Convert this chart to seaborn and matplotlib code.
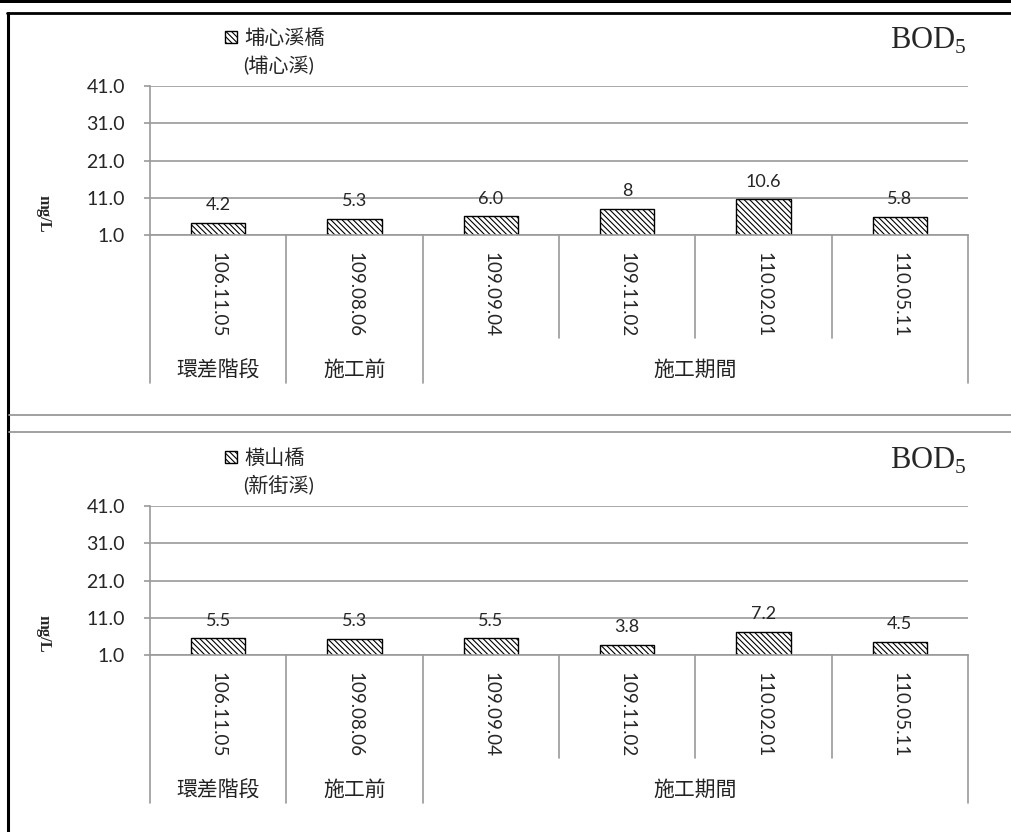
import matplotlib
matplotlib.use("Agg")
import matplotlib.pyplot as plt
import pandas as pd
import seaborn as sns
from matplotlib.patches import Patch, Rectangle
from matplotlib.lines import Line2D

# data
dates = ["106.11.05", "109.08.06", "109.09.04", "109.11.02", "110.02.01", "110.05.11"]
phases = ["環差階段", "施工前", "施工期間"]
phase_span = [(0, 0), (1, 1), (2, 5)]
yticks = [1.0, 11.0, 21.0, 31.0, 41.0]

site_top = "埔心溪橋"
river_top = "(埔心溪)"
bod_top = [4.2, 5.3, 6.0, 8.0, 10.6, 5.8]
lab_top = ["4.2", "5.3", "6.0", "8", "10.6", "5.8"]

site_bot = "橫山橋"
river_bot = "(新街溪)"
bod_bot = [5.5, 5.3, 5.5, 3.8, 7.2, 4.5]
lab_bot = ["5.5", "5.3", "5.5", "3.8", "7.2", "4.5"]

sns.set_theme(style="white")
plt.rcParams['font.family'] = ['Lato', 'Noto Sans CJK TC', 'DejaVu Sans']
plt.rcParams['hatch.linewidth'] = 0.8

GRAY = "#9a9a9a"
HATCH = "\\\\\\\\\\\\"
SERIF = ["Liberation Serif", "DejaVu Serif"]

fig = plt.figure(figsize=(10.11, 8.32), dpi=100)
fig.patch.set_facecolor("white")

# frame decorations
fig.add_artist(Rectangle((0, 1 - 3 / 832), 1, 3 / 832, transform=fig.transFigure, color="black", lw=0))
fig.add_artist(Line2D([7 / 1011, 1], [1 - 12.5 / 832] * 2, transform=fig.transFigure, color="black", lw=2))
fig.add_artist(Line2D([8 / 1011] * 2, [0, 1 - 12.5 / 832], transform=fig.transFigure, color="black", lw=2.2))
for yy in (415, 432):
    fig.add_artist(Line2D([9 / 1011, 1], [1 - yy / 832] * 2, transform=fig.transFigure, color=GRAY, lw=1.3))


def draw_panel(rect, vals, labs, site, river, leg_y):
    ax = fig.add_axes(rect)
    df = pd.DataFrame({"date": dates, "bod": vals})
    sns.barplot(data=df, x="date", y="bod", ax=ax, color="white", edgecolor="black",
                linewidth=1, hatch=HATCH, width=0.4, saturation=1, errorbar=None)
    ax.set_ylim(1, 41)
    ax.set_xlim(-0.5, len(dates) - 0.5)
    ax.set_yticks(yticks)
    ax.set_yticklabels([f"{t:.1f}" for t in yticks], fontsize=14)
    ax.yaxis.grid(True, color=GRAY, lw=1.2)
    ax.set_axisbelow(True)
    ax.tick_params(axis="y", left=True, length=4, width=1.2, color=GRAY, pad=14)
    ax.tick_params(axis="x", bottom=False, length=0, pad=12)
    ax.set_xticks(range(len(dates)))
    ax.set_xticklabels(dates, rotation=270, fontsize=13.5, va="top", ha="center")
    for s in ("top", "right"):
        ax.spines[s].set_visible(False)
    for s in ("left", "bottom"):
        ax.spines[s].set_color(GRAY)
        ax.spines[s].set_linewidth(1.2)
    ax.set_xlabel("")
    ax.set_ylabel("mg/L", rotation=270, fontsize=12, fontweight="bold",
                  family=SERIF, labelpad=0)
    ax.yaxis.set_label_coords(-0.14, 0.14)

    ax.bar_label(ax.containers[0], labels=labs, padding=7, fontsize=13)

    # category separators below the axis
    tr = ax.get_xaxis_transform()
    starts = [a for a, b in phase_span]
    for i in range(len(dates) + 1):
        x = i - 0.5
        full = i == 0 or i == len(dates) or i in starts
        ax.plot([x, x], [0, -0.993 if full else -0.69], transform=tr, color=GRAY,
                lw=1.2, clip_on=False)
    for name, (a, b) in zip(phases, phase_span):
        ax.text((a + b) / 2, -0.906, name, transform=tr, ha="center", va="center",
                fontsize=15, color="#222222")

    # legend + title
    ax.legend(handles=[Patch(facecolor="white", edgecolor="black", hatch=HATCH, lw=1)],
              labels=[site], loc="center left", bbox_to_anchor=(0.082, leg_y),
              frameon=False, handlelength=0.6, handleheight=0.6, handletextpad=0.35,
              fontsize=14.5, borderaxespad=0)
    ax.text(0.114, leg_y - 0.185, river, transform=ax.transAxes, ha="left", va="center",
            fontsize=14.5)
    ax.text(0.998, leg_y - 0.02, r"BOD$_\mathregular{5}$", transform=ax.transAxes, ha="right",
            va="center", fontsize=22, family=SERIF)
    return ax


draw_panel([150 / 1011, 1 - 235 / 832, 818 / 1011, 149 / 832], bod_top, lab_top,
           site_top, river_top, 1.325)
draw_panel([150 / 1011, 1 - 655 / 832, 818 / 1011, 149 / 832], bod_bot, lab_bot,
           site_bot, river_bot, 1.325)

fig.savefig("out.png", dpi=100, facecolor="white")
